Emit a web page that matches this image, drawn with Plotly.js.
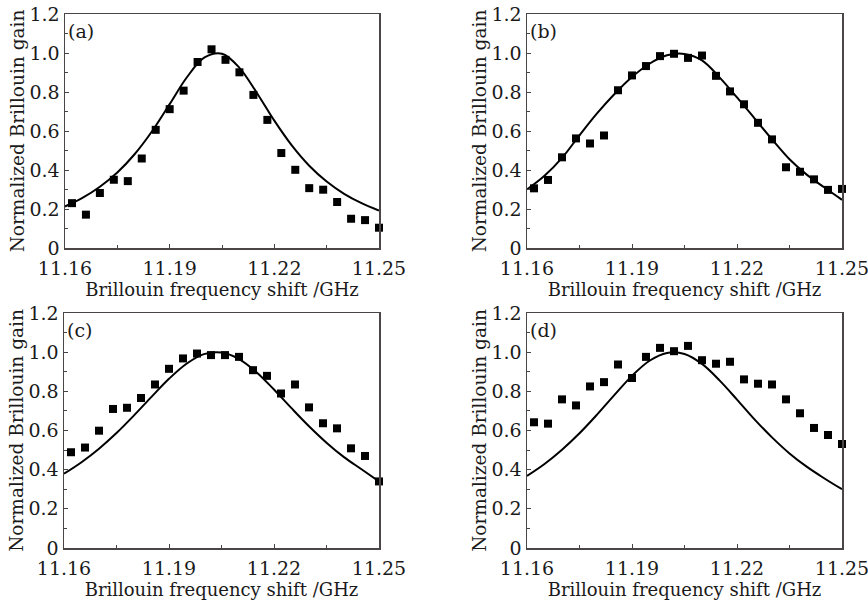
<!DOCTYPE html>
<html>
<head>
<meta charset="utf-8">
<script src="https://cdn.plot.ly/plotly-3.0.1.min.js"></script>
<style>html,body{margin:0;padding:0;background:#fff;}#chart{width:868px;height:600px;}</style>
</head>
<body>
<div id="chart"></div>
<script>
// Measured frequencies (GHz)
const measX = [11.162, 11.166, 11.170, 11.174, 11.178, 11.182, 11.186, 11.190, 11.194, 11.198, 11.202, 11.206,
               11.210, 11.214, 11.218, 11.222, 11.226, 11.230, 11.234, 11.238, 11.242, 11.246, 11.250];
// Fit curve frequencies (GHz)
const fitX = [11.160, 11.165, 11.170, 11.175, 11.180, 11.185, 11.190, 11.195, 11.200, 11.205,
              11.210, 11.215, 11.220, 11.225, 11.230, 11.235, 11.240, 11.245, 11.250];

// Panel (a)
const measA = [0.230, 0.171, 0.282, 0.350, 0.343, 0.459, 0.606, 0.712, 0.807, 0.954, 1.019, 0.965,
               0.901, 0.785, 0.657, 0.487, 0.401, 0.307, 0.299, 0.236, 0.150, 0.143, 0.104];
const fitA = [0.213, 0.257, 0.314, 0.387, 0.482, 0.600, 0.738, 0.877, 0.977, 0.996,
              0.924, 0.795, 0.653, 0.526, 0.422, 0.341, 0.278, 0.230, 0.192];
// Panel (b)
const measB = [0.306, 0.349, 0.465, 0.562, 0.536, 0.577, 0.809, 0.885, 0.933, 0.984, 0.996, 0.975,
               0.987, 0.883, 0.803, 0.737, 0.642, 0.557, 0.414, 0.391, 0.352, 0.298, 0.303];
const fitB = [0.300, 0.370, 0.462, 0.578, 0.690, 0.790, 0.877, 0.945, 0.988, 0.995,
              0.962, 0.875, 0.772, 0.665, 0.557, 0.455, 0.375, 0.310, 0.247];
// Panel (c)
const measC = [0.489, 0.513, 0.599, 0.710, 0.716, 0.766, 0.835, 0.915, 0.968, 0.993, 0.985, 0.985,
               0.976, 0.908, 0.879, 0.789, 0.835, 0.718, 0.637, 0.611, 0.509, 0.470, 0.340];
const fitC = [0.379, 0.438, 0.507, 0.587, 0.677, 0.772, 0.864, 0.941, 0.990, 0.998,
              0.965, 0.898, 0.809, 0.714, 0.622, 0.538, 0.464, 0.402, 0.340];
// Panel (d)
const measD = [0.642, 0.635, 0.759, 0.728, 0.825, 0.847, 0.937, 0.868, 0.976, 1.022, 1.005, 1.032,
               0.959, 0.941, 0.951, 0.861, 0.839, 0.835, 0.759, 0.688, 0.613, 0.577, 0.531];
const fitD = [0.368, 0.429, 0.502, 0.586, 0.681, 0.782, 0.879, 0.956, 0.996, 0.991,
              0.940, 0.856, 0.758, 0.657, 0.565, 0.483, 0.414, 0.355, 0.300];

const panelLabels = ['(a)', '(b)', '(c)', '(d)'];
const xTickVals = [11.16, 11.19, 11.22, 11.25];
const xTickText = ['11.16', '11.19', '11.22', '11.25'];
const xMinorVals = [11.175, 11.205, 11.235];
const yTickVals = [0, 0.2, 0.4, 0.6, 0.8, 1.0, 1.2];
const yTickText = ['0', '0.2', '0.4', '0.6', '0.8', '1.0', '1.2'];
const xTitle = 'Brillouin frequency shift /GHz';
const yTitle = 'Normalized Brillouin gain';

const measAll = [measA, measB, measC, measD];
const fitAll = [fitA, fitB, fitC, fitD];

const W = 868, H = 600;
const boxes = [
  {l: 65, r: 379, t: 14, b: 248},
  {l: 527, r: 842, t: 14, b: 248},
  {l: 64, r: 379, t: 313, b: 548},
  {l: 527, r: 842, t: 313, b: 548}
];

const FONT = 'DejaVu Serif, Liberation Serif, serif';
const TXT = '#1a1a1a';
const traces = [];
const layout = {
  width: W, height: H,
  margin: {l: 0, r: 0, t: 0, b: 0},
  paper_bgcolor: '#fff', plot_bgcolor: '#fff',
  showlegend: false,
  font: {family: FONT, size: 18, color: TXT},
  annotations: []
};

for (let i = 0; i < 4; i++) {
  const sfx = i === 0 ? '' : String(i + 1);
  const xa = 'x' + sfx, ya = 'y' + sfx;
  traces.push({
    x: fitX, y: fitAll[i], xaxis: xa, yaxis: ya, type: 'scatter', mode: 'lines',
    line: {color: '#000', width: 2, shape: 'spline', smoothing: 1}, hoverinfo: 'skip'
  });
  traces.push({
    x: measX, y: measAll[i], xaxis: xa, yaxis: ya, type: 'scatter', mode: 'markers',
    marker: {symbol: 'square', size: 8, color: '#000'}, cliponaxis: false
  });
  const b = boxes[i];
  layout['xaxis' + sfx] = {
    domain: [b.l / W, b.r / W], anchor: ya, range: [11.16, 11.25],
    tickmode: 'array', tickvals: xTickVals, ticktext: xTickText,
    ticks: 'inside', ticklen: 4, tickwidth: 1, tickcolor: '#444',
    ticklabeloverflow: 'allow', ticklabelstandoff: 3,
    minor: {tickmode: 'array', tickvals: xMinorVals, ticks: 'inside', ticklen: 3, tickcolor: '#444'},
    showline: true, linecolor: '#4a4646', linewidth: 1.5, mirror: true,
    showgrid: false, zeroline: false, automargin: false,
    tickfont: {family: FONT, size: 19, color: TXT},
    title: {text: xTitle, font: {family: FONT, size: 18, color: TXT}, standoff: 0}
  };
  layout['yaxis' + sfx] = {
    domain: [1 - b.b / H, 1 - b.t / H], anchor: xa, range: [0, 1.2],
    tickmode: 'array', tickvals: yTickVals, ticktext: yTickText,
    ticks: 'inside', ticklen: 4, tickwidth: 1, tickcolor: '#444',
    ticklabeloverflow: 'allow',
    minor: {dtick: 0.1, tick0: 0, ticks: 'inside', ticklen: 3, tickcolor: '#444'},
    showline: true, linecolor: '#4a4646', linewidth: 1.5, mirror: true,
    showgrid: false, zeroline: false, automargin: false,
    tickfont: {family: FONT, size: 19, color: TXT},
    title: {text: yTitle, font: {family: FONT, size: 18.5, color: TXT}, standoff: 0}
  };
  layout.annotations.push({
    text: panelLabels[i], xref: xa + ' domain', yref: ya + ' domain',
    x: 0.003, y: 0.985, xanchor: 'left', yanchor: 'top', showarrow: false,
    font: {family: FONT, size: 19, color: TXT}
  });
}

Plotly.newPlot('chart', traces, layout, {staticPlot: true, displayModeBar: false});
</script>
</body>
</html>
